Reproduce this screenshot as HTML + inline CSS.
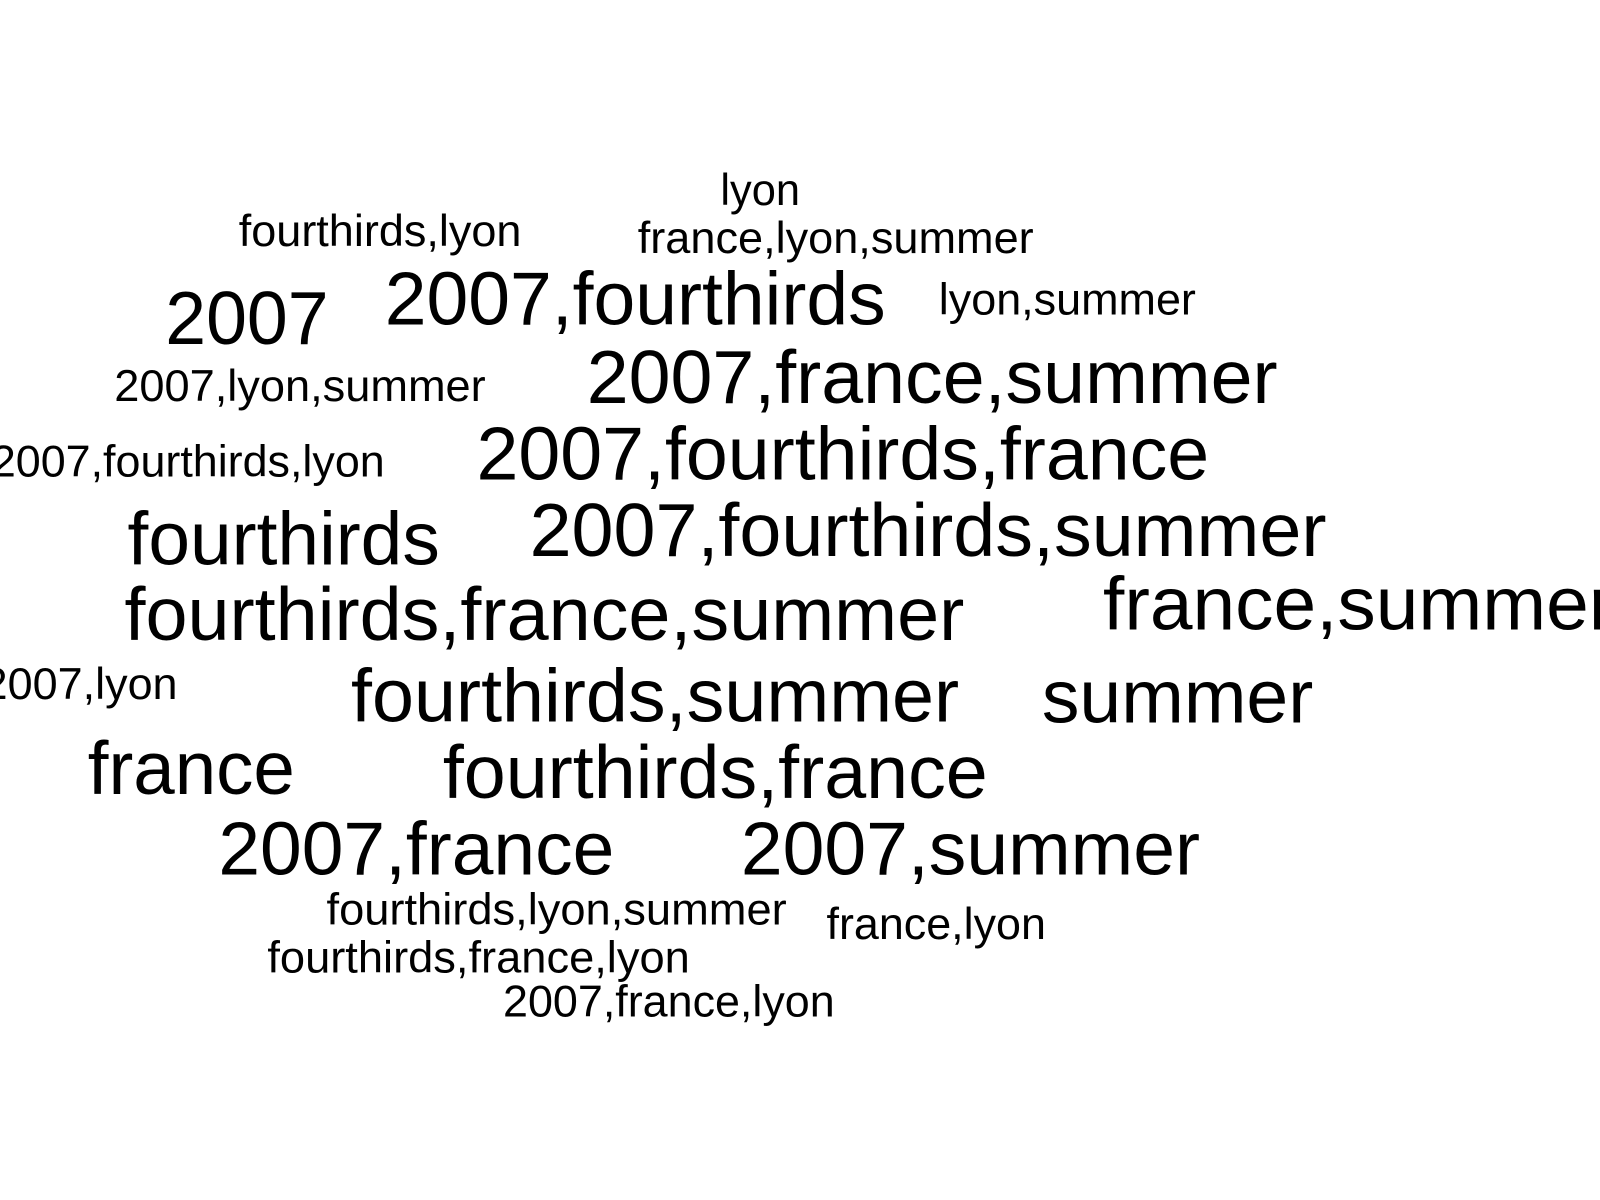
<!DOCTYPE html>
<html><head><meta charset="utf-8"><style>
html,body{margin:0;padding:0;background:#fff;}
svg{display:block;}
text{font-family:"Liberation Sans",Arial,sans-serif;fill:#000;}
</style></head><body>
<svg id="cloud" width="1600" height="1200" viewBox="0 0 1600 1200" xmlns="http://www.w3.org/2000/svg">
<rect width="1600" height="1200" fill="#fff"/>
</svg>
<script>
const words = ["lyon","fourthirds,lyon","france,lyon,summer","2007,fourthirds","lyon,summer","2007","2007,lyon,summer","2007,france,summer","2007,fourthirds,lyon","2007,fourthirds,france","fourthirds","2007,fourthirds,summer","fourthirds,france,summer","france,summer","2007,lyon","fourthirds,summer","summer","france","fourthirds,france","2007,france","2007,summer","fourthirds,lyon,summer","france,lyon","fourthirds,france,lyon","2007,france,lyon"];
const freq = [1,1,1,2,1,2,1,2,1,2,2,2,2,2,1,2,2,2,2,2,2,1,1,1,1];
const xLeft = [706,234,625,377,920,162,112,575,-9,467,125,519,122,1081,-17,344,1021,86,434,214,726,320,810,262,493];
const xRight = [784,511,1013,868,1172,322,476,1252,377,1185,431,1300,945,1582,174,940,1287,289,968,602,1176,771,1025,676,818];
const yBase = [201,241,248,318,308,337,393,395,467,470,553,545,627,617,685,707,708,778,782,857,857,906,920,953,996];
const sizes = [44,74];
const SC = 1600/1568;
const svg = document.getElementById('cloud');
for (let i = 0; i < words.length; i++) {
  const t = document.createElementNS('http://www.w3.org/2000/svg','text');
  t.setAttribute('x', xLeft[i]*SC);
  t.setAttribute('y', yBase[i]*SC);
  t.setAttribute('font-size', sizes[freq[i]-1]*SC);
  t.setAttribute('textLength', (xRight[i]-xLeft[i])*SC);
  t.setAttribute('lengthAdjust', 'spacingAndGlyphs');
  t.textContent = words[i];
  
  
  svg.appendChild(t);
}
</script>
</body></html>
